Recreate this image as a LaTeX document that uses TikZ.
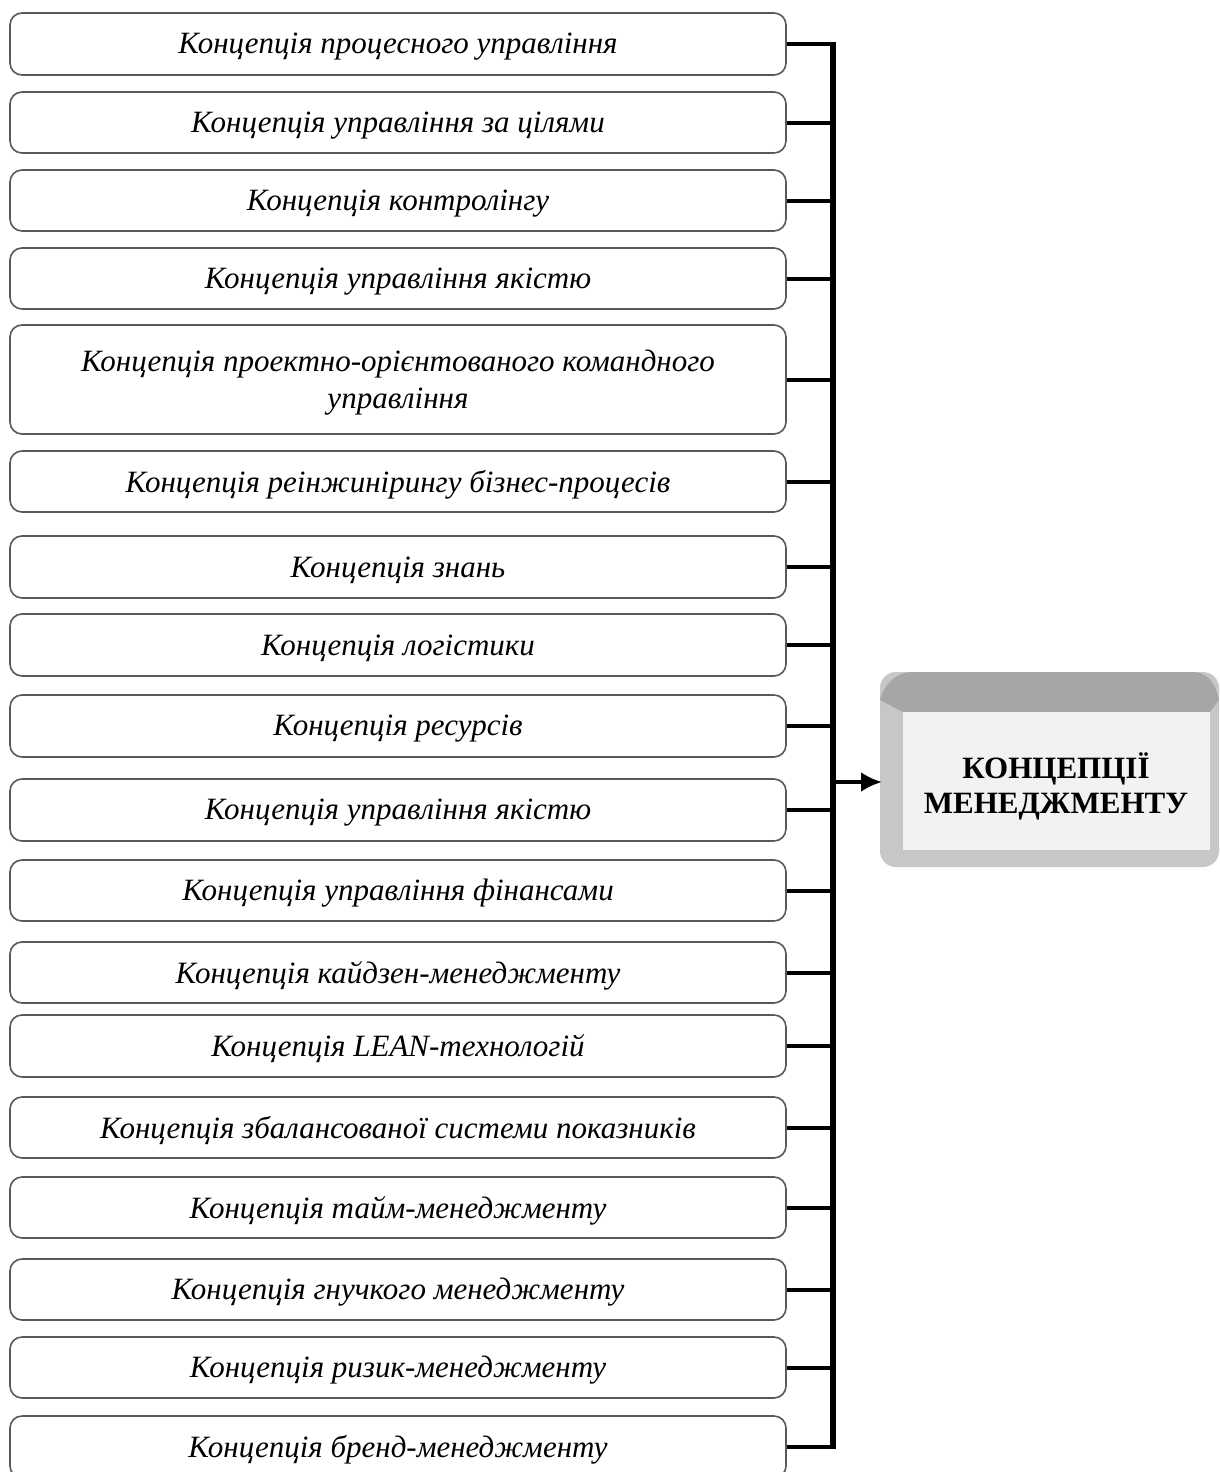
\documentclass[tikz,border=0pt]{standalone}
\usepackage{fontspec}
\setmainfont{Liberation Serif}
\usetikzlibrary{arrows.meta,calc}
\tikzset{
  conceptbox/.style={draw=black!65, line width=1.6pt, rounded corners=12pt, fill=white,
    minimum width=776pt, inner sep=0pt},
  concepttext/.style={inner sep=0pt, align=center,
    font=\fontsize{31}{37}\selectfont\itshape},
  conn/.style={line width=4pt, black},
  busline/.style={line width=5.5pt, black},
  arr/.style={line width=4.5pt, black, -{Latex[length=21pt,width=20pt]}},
}
\begin{document}
\begin{tikzpicture}[x=1pt,y=-1pt]
\clip (0,0) rectangle (1220,1472);
\fill[white] (0,0) rectangle (1220,1472);
% concept boxes (top,bottom)
\foreach \n/\t/\b/\txt in {
 1/13/75/{Концепція процесного управління},
 2/92/153/{Концепція управління за цілями},
 3/170/231/{Концепція контролінгу},
 4/248/309/{Концепція управління якістю},
 5/325/434/{Концепція проектно-орієнтованого командного\\управління},
 6/451/512/{Концепція реінжинірингу бізнес-процесів},
 7/536/598/{Концепція знань},
 8/614/676/{Концепція логістики},
 9/695/757/{Концепція ресурсів},
 10/779/841/{Концепція управління якістю},
 11/860/921/{Концепція управління фінансами},
 12/942/1003/{Концепція кайдзен-менеджменту},
 13/1015/1077/{Концепція LEAN-технологій},
 14/1097/1158/{Концепція збалансованої системи показників},
 15/1177/1238/{Концепція тайм-менеджменту},
 16/1259/1320/{Концепція гнучкого менеджменту},
 17/1337/1398/{Концепція ризик-менеджменту},
 18/1416/1478/{Концепція бренд-менеджменту}}{
  \pgfmathsetmacro{\h}{\b-\t}
  \pgfmathsetmacro{\c}{(\b+\t)/2}
  \pgfmathsetmacro{\ct}{\c+3}
  \node[conceptbox, minimum height=\h pt] (b\n) at (398,\c) {};
  \node[concepttext] (t\n) at (398,\ct) {\txt};
}
% bus
\coordinate (bt) at (833,44);
\coordinate (bb) at (833,1447);
\foreach \n in {1,...,18}{
  \draw[conn] (b\n.east) -- (b\n.east -| bt);
}
\draw[busline] ([yshift=2pt]bt) -- ([yshift=-2pt]bb);
% target box
\fill[black!22, rounded corners=16pt] (880,672) rectangle (1219,867);
\fill[black!35] (913,672) -- (1192,672) .. controls (1205,672) and (1215,680) .. (1219,700) -- (1210,712) -- (903,712) -- (880,700) .. controls (884,684) and (896,672) .. (913,672) -- cycle;
\fill[black!5] (903,712) rectangle (1210,850);
\node[minimum width=339pt, minimum height=195pt, inner sep=0pt, align=center,
  font=\fontsize{31}{35}\selectfont\bfseries] (cm) at (1056,786) {КОНЦЕПЦІЇ\\МЕНЕДЖМЕНТУ};
\coordinate (aj) at (833,782);
\draw[arr] (aj) -- (aj -| 882,0);
\end{tikzpicture}
\end{document}
